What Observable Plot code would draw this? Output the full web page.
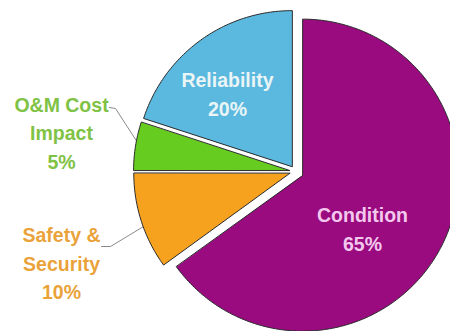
<!DOCTYPE html>
<html>
<head>
<meta charset="utf-8">
<script src="https://cdn.jsdelivr.net/npm/d3@7"></script>
<script src="https://cdn.jsdelivr.net/npm/@observablehq/plot@0.6"></script>
<style>
  html, body { margin: 0; padding: 0; background: #ffffff; }
  #chart { width: 450px; height: 331px; overflow: hidden; }
</style>
</head>
<body>
<div id="chart"></div>
<script>
// ---- Data ----
const categories = ["Condition", "Safety & Security", "O&M Cost Impact", "Reliability"];
const values = [65, 10, 5, 20];
const labelLines = [["Condition", "65%"], ["Safety &", "Security", "10%"], ["O&M Cost", "Impact", "5%"], ["Reliability", "20%"]];

// ---- Styling / layout (not data) ----
const sliceColors = ["#990b7e", "#f7a21f", "#66cc1f", "#5bb8de"];
const labelColors = ["#f4c8ee", "#e9a33a", "#7fc244", "#eaf5f6"];
const W = 450, H = 331;
const C = {x: 295, y: 171}, R = 156;
const explode = [8, 6, 6, 6];
// label block centres in chart units
const labelPos = [[362, 227], [61, 261], [61, 130.5], [227, 91.5]];
// leader line label-end points and angle (deg clockwise from top) where they touch the slice
const leaders = [
  {cat: 1, from: [[101, 246], [110, 246]], angle: 250},
  {cat: 2, from: [[109, 107], [115, 108]], angle: 281}
];

// ---- Geometry from values ----
const total = d3.sum(values);
let acc = 0;
const slices = values.map((v, i) => {
  const a0 = acc / total * 360; acc += v; const a1 = acc / total * 360;
  const mid = (a0 + a1) / 2 * Math.PI / 180;
  const cx = C.x + explode[i] * Math.sin(mid);
  const cy = C.y - explode[i] * Math.cos(mid);
  return {name: categories[i], a0, a1, cx, cy};
});
const pt = (s, deg) => {
  const a = deg * Math.PI / 180;
  return [s.cx + R * Math.sin(a), s.cy - R * Math.cos(a)];
};
const rows = [];
slices.forEach(s => {
  rows.push({name: s.name, x: s.cx, y: s.cy});
  const n = Math.max(2, Math.ceil(s.a1 - s.a0));
  for (let k = 0; k <= n; k++) {
    const [x, y] = pt(s, s.a0 + (s.a1 - s.a0) * k / n);
    rows.push({name: s.name, x, y});
  }
});
const leaderRows = [];
leaders.forEach((l, j) => {
  l.from.forEach(([x, y]) => leaderRows.push({id: j, x, y}));
  const [x, y] = pt(slices[l.cat], l.angle);
  leaderRows.push({id: j, x, y});
});
const labels = categories.map((c, i) => ({
  name: c, text: labelLines[i].join("\n"), x: labelPos[i][0], y: labelPos[i][1], color: labelColors[i]
}));

const chart = Plot.plot({
  width: W, height: H,
  margin: 0,
  x: {domain: [0, W], range: [0, W], axis: null},
  y: {domain: [0, H], range: [0, H], axis: null},
  color: {domain: categories, range: sliceColors},
  style: {background: "#ffffff", fontFamily: "'Liberation Sans', Arial, sans-serif"},
  marks: [
    Plot.line(leaderRows, {x: "x", y: "y", z: "id", stroke: "#8a8a8a", strokeWidth: 1}),
    Plot.line(rows, {x: "x", y: "y", z: "name", fill: "name", stroke: "#2b2b2b", strokeWidth: 1, curve: "linear-closed"}),
    Plot.text(labels, {x: "x", y: "y", text: "text", fill: d => d.color, fontSize: 19.5, fontWeight: "bold", lineHeight: 1.47, lineAnchor: "middle", textAnchor: "middle"})
  ]
});
document.getElementById("chart").appendChild(chart);
</script>
</body>
</html>
